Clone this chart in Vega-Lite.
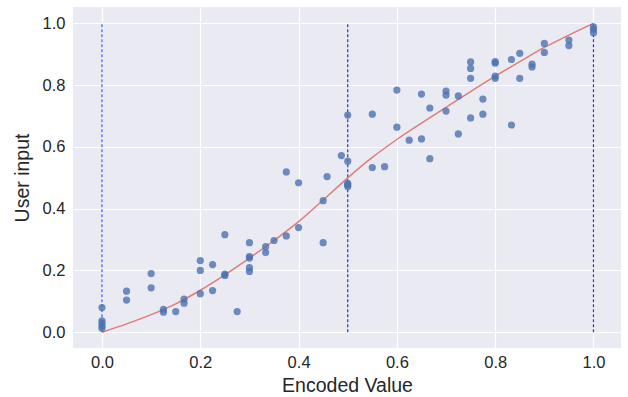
{
  "$schema": "https://vega.github.io/schema/vega-lite/v6.json",
  "width": 548,
  "height": 341,
  "autosize": "none",
  "padding": {"left": 73, "top": 7, "right": 7, "bottom": 49},
  "background": "white",
  "config": {
    "view": {"fill": "#EAEAF2", "stroke": null},
    "font": "Liberation Sans",
    "axis": {
      "domain": false,
      "ticks": false,
      "grid": true,
      "gridColor": "white",
      "gridWidth": 1.2,
      "labelFont": "Liberation Sans",
      "titleFont": "Liberation Sans",
      "labelFontSize": 16.5,
      "titleFontSize": 19.5,
      "labelColor": "#262626",
      "titleColor": "#262626",
      "titleFontWeight": "normal"
    }
  },
  "datasets": {
    "points": [
      {"x": 0, "y": 0.08}, {"x": 0, "y": 0.037}, {"x": 0, "y": 0.029}, {"x": 0, "y": 0.02}, {"x": 0, "y": 0.013},
      {"x": 0.05, "y": 0.133}, {"x": 0.05, "y": 0.104},
      {"x": 0.1, "y": 0.19}, {"x": 0.1, "y": 0.144},
      {"x": 0.125, "y": 0.074}, {"x": 0.125, "y": 0.065},
      {"x": 0.15, "y": 0.067},
      {"x": 0.167, "y": 0.107}, {"x": 0.167, "y": 0.094},
      {"x": 0.2, "y": 0.232}, {"x": 0.2, "y": 0.2}, {"x": 0.2, "y": 0.125},
      {"x": 0.225, "y": 0.219}, {"x": 0.225, "y": 0.135},
      {"x": 0.25, "y": 0.316}, {"x": 0.25, "y": 0.188}, {"x": 0.25, "y": 0.184},
      {"x": 0.275, "y": 0.067},
      {"x": 0.3, "y": 0.29}, {"x": 0.3, "y": 0.245}, {"x": 0.3, "y": 0.24}, {"x": 0.3, "y": 0.209}, {"x": 0.3, "y": 0.197},
      {"x": 0.333, "y": 0.277}, {"x": 0.333, "y": 0.258},
      {"x": 0.35, "y": 0.297},
      {"x": 0.375, "y": 0.519}, {"x": 0.375, "y": 0.312},
      {"x": 0.4, "y": 0.484}, {"x": 0.4, "y": 0.339},
      {"x": 0.45, "y": 0.426}, {"x": 0.45, "y": 0.29},
      {"x": 0.458, "y": 0.504},
      {"x": 0.487, "y": 0.572},
      {"x": 0.5, "y": 0.703}, {"x": 0.5, "y": 0.554}, {"x": 0.5, "y": 0.482}, {"x": 0.5, "y": 0.477}, {"x": 0.5, "y": 0.472},
      {"x": 0.55, "y": 0.706}, {"x": 0.55, "y": 0.533},
      {"x": 0.575, "y": 0.536},
      {"x": 0.6, "y": 0.784}, {"x": 0.6, "y": 0.664},
      {"x": 0.625, "y": 0.622},
      {"x": 0.65, "y": 0.771}, {"x": 0.65, "y": 0.626},
      {"x": 0.667, "y": 0.726}, {"x": 0.667, "y": 0.562},
      {"x": 0.7, "y": 0.781}, {"x": 0.7, "y": 0.768}, {"x": 0.7, "y": 0.716},
      {"x": 0.725, "y": 0.765}, {"x": 0.725, "y": 0.642},
      {"x": 0.75, "y": 0.875}, {"x": 0.75, "y": 0.854}, {"x": 0.75, "y": 0.822}, {"x": 0.75, "y": 0.694},
      {"x": 0.775, "y": 0.755}, {"x": 0.775, "y": 0.706},
      {"x": 0.8, "y": 0.876}, {"x": 0.8, "y": 0.871}, {"x": 0.8, "y": 0.829}, {"x": 0.8, "y": 0.822},
      {"x": 0.833, "y": 0.883}, {"x": 0.833, "y": 0.671},
      {"x": 0.85, "y": 0.903}, {"x": 0.85, "y": 0.822},
      {"x": 0.875, "y": 0.868}, {"x": 0.875, "y": 0.859},
      {"x": 0.9, "y": 0.935}, {"x": 0.9, "y": 0.906},
      {"x": 0.95, "y": 0.946}, {"x": 0.95, "y": 0.928},
      {"x": 1.0, "y": 0.989}, {"x": 1.0, "y": 0.981}, {"x": 1.0, "y": 0.97}
    ],
    "curve": [
      {"x": 0, "y": 0}, {"x": 0.05, "y": 0.027}, {"x": 0.1, "y": 0.057}, {"x": 0.15, "y": 0.092},
      {"x": 0.2, "y": 0.136}, {"x": 0.25, "y": 0.186}, {"x": 0.3, "y": 0.24}, {"x": 0.35, "y": 0.297},
      {"x": 0.4, "y": 0.358}, {"x": 0.45, "y": 0.428}, {"x": 0.5, "y": 0.5}, {"x": 0.55, "y": 0.566},
      {"x": 0.6, "y": 0.624}, {"x": 0.65, "y": 0.677}, {"x": 0.7, "y": 0.728}, {"x": 0.75, "y": 0.779},
      {"x": 0.8, "y": 0.829}, {"x": 0.85, "y": 0.876}, {"x": 0.9, "y": 0.922}, {"x": 0.95, "y": 0.962},
      {"x": 1.0, "y": 1.0}
    ],
    "vlines": [
      {"x": 0, "y0": 0, "y1": 1, "kind": "a"},
      {"x": 0.5, "y0": 0, "y1": 1, "kind": "b"},
      {"x": 1, "y0": 0, "y1": 1, "kind": "b"}
    ]
  },
  "layer": [
    {
      "data": {"name": "vlines"},
      "mark": {"type": "rule", "strokeDash": [3, 2], "strokeWidth": 1.2},
      "encoding": {
        "x": {"field": "x", "type": "quantitative", "scale": {"domain": [-0.059, 1.056], "nice": false, "zero": false}, "axis": {"values": [0, 0.2, 0.4, 0.6, 0.8, 1.0], "format": ".1f", "title": "Encoded Value", "labelPadding": 6, "titlePadding": 6}},
        "y": {"field": "y0", "type": "quantitative", "scale": {"domain": [-0.051, 1.053], "nice": false, "zero": false}, "axis": {"values": [0, 0.2, 0.4, 0.6, 0.8, 1.0], "format": ".1f", "title": "User input", "labelPadding": 8, "titlePadding": 10}},
        "y2": {"field": "y1"},
        "color": {"field": "kind", "type": "nominal", "scale": {"domain": ["a", "b"], "range": ["#2a5cf5", "#1f3cc0"]}, "legend": null}
      }
    },
    {
      "data": {"name": "curve"},
      "mark": {"type": "line", "color": "#e07c78", "strokeWidth": 1.5, "interpolate": "monotone"},
      "encoding": {
        "x": {"field": "x", "type": "quantitative"},
        "y": {"field": "y", "type": "quantitative"}
      }
    },
    {
      "data": {"name": "points"},
      "mark": {"type": "point", "filled": true, "shape": "circle", "size": 52, "color": "#4C72B0", "opacity": 0.8},
      "encoding": {
        "x": {"field": "x", "type": "quantitative"},
        "y": {"field": "y", "type": "quantitative"}
      }
    }
  ]
}
